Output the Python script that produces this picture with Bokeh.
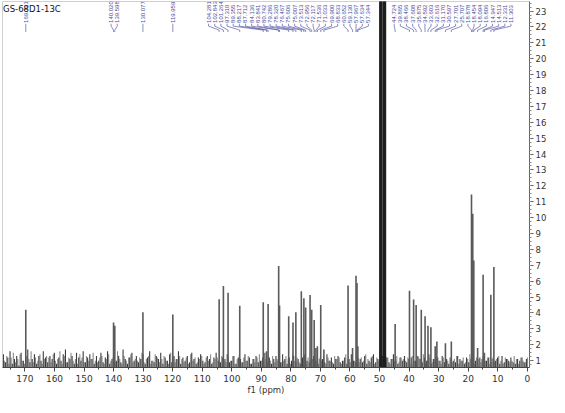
import math
from bokeh.plotting import figure
from bokeh.models import Range1d, FixedTicker, Label
from bokeh.core.properties import value
from bokeh.embed import file_html
from bokeh.resources import INLINE

TITLE = "GS-68D1-13C"
X_LABEL = "f1 (ppm)"

PEAK_PPM = [169.721, 140.020, 139.598, 130.077, 119.959,
            104.281, 102.843, 101.264, 97.310, 89.355, 88.217, 87.712, 84.136, 83.841, 80.742,
            79.286, 78.320, 76.467, 75.606, 75.007, 73.513, 72.956, 72.117, 71.536, 71.033,
            69.900, 68.833, 60.652, 59.130, 57.967, 57.634, 57.344,
            44.724, 39.865, 38.466, 37.608, 35.875, 34.592, 33.603, 32.616, 31.170, 30.597,
            27.701, 25.707, 18.878, 18.454, 18.094, 16.806, 14.947, 14.513, 12.331, 11.303]
PEAK_HEIGHT = [4.2, 3.4, 3.2, 4.05, 3.9,
               4.86, 5.7, 5.27, 4.45, 4.68, 1.6, 4.56, 6.96, 4.47, 3.8,
               3.4, 4.05, 5.37, 4.92, 4.35, 5.13, 4.2, 3.56, 1.8, 1.9,
               4.5, 1.7, 5.73, 1.8, 6.35, 5.88, 1.9,
               3.3, 5.4, 4.85, 4.5, 4.2, 3.8, 3.2, 3.1, 1.9, 2.2,
               2.1, 2.2, 11.45, 10.25, 7.3, 1.8, 6.4, 1.5, 5.15, 6.9]

SOLVENT_PPM = [49.85, 49.55, 49.25, 48.65, 48.35, 48.05]
SOLVENT_HEIGHT = [60, 60, 60, 60, 60, 60]

NOISE_START = 177.3
NOISE_STEP = 0.75
NOISE_A = [
    14, 9, 12, 16, 8, 11, 13, 7, 15, 10, 12, 17, 9, 11, 14, 8, 13, 10, 16, 12,
    9, 13, 11, 15, 8, 12, 10, 14, 17, 9, 11, 13, 8, 15, 12, 10, 16, 9, 12, 14,
    11, 8, 13, 10, 15, 9, 12, 16, 8, 11, 14, 10, 13, 9, 17, 11, 8, 12, 15, 10,
    13, 9, 11, 14, 8, 12, 16, 10, 9, 13, 11, 15, 8, 12, 10, 14, 9, 13, 11, 16,
    8, 12, 10, 13, 9, 15, 11, 8, 12, 14, 10, 9, 13, 11, 8, 12, 15, 10, 9, 12,
    11, 14, 9, 10, 13, 8, 12, 11, 9, 14, 10, 12, 8, 11, 13, 9, 10, 12, 15, 9,
    12, 8, 11, 13, 10, 9, 14, 11, 8, 12, 10, 13, 9, 11, 8, 12, 14, 10, 9, 11,
    13, 10, 8, 12, 11, 9, 14, 10, 12, 8, 11, 13, 9, 10, 12, 8, 11, 14, 10, 9,
    12, 11, 9, 13, 8, 10, 12, 14, 9, 11, 10, 13, 8, 12, 9, 11, 14, 10, 8, 12,
    10, 13, 9, 11, 12, 8, 10, 13, 11, 9, 12, 10, 14, 8, 11, 9, 12, 10, 13, 9,
    11, 8, 12, 10, 9, 13, 11, 10, 8, 12, 9, 11, 13, 10, 8, 12, 11, 9, 10, 12,
    9, 11, 10, 12, 8, 13, 9, 11, 10, 12, 9, 8, 11, 10, 12, 9, 11]
NOISE_B = [
    10, 13, 8, 12, 15, 9, 11, 14, 10, 8, 13, 11, 16, 9, 12, 10, 14, 8, 11, 13,
    12, 9, 14, 10, 11, 16, 8, 13, 9, 12, 15, 10, 11, 8, 14, 12, 9, 13, 10, 11,
    15, 10, 9, 12, 13, 8, 11, 14, 10, 12, 9, 16, 11, 8, 13, 10, 12, 14, 9, 11,
    10, 12, 15, 9, 11, 13, 8, 10, 14, 12, 9, 11, 13, 10, 8, 15, 12, 9, 11, 13,
    11, 9, 12, 8, 14, 10, 12, 9, 11, 13, 8, 12, 10, 14, 9, 11, 12, 8, 13, 10,
    9, 12, 10, 13, 8, 11, 14, 9, 12, 10, 13, 8, 11, 9, 12, 14, 10, 8, 11, 13,
    10, 13, 9, 11, 12, 9, 10, 13, 11, 8, 14, 10, 12, 9, 11, 13, 8, 12, 10, 11,
    12, 9, 11, 10, 13, 8, 12, 10, 9, 13, 11, 12, 8, 10, 14, 11, 9, 12, 10, 8,
    9, 12, 10, 14, 11, 9, 13, 8, 12, 10, 11, 9, 13, 12, 8, 11, 10, 13, 9, 12,
    11, 10, 12, 8, 13, 10, 9, 12, 11, 14, 8, 10, 12, 9, 11, 13, 10, 8, 12, 11,
    10, 12, 9, 11, 13, 8, 10, 12, 9, 11, 14, 10, 8, 12, 11, 9, 13, 10, 12, 8,
    12, 9, 11, 13, 10, 8, 12, 11, 9, 10, 13, 11, 8, 12, 10, 9, 12]

X_TICKS = list(range(0, 171, 10))
X_MINOR = list(range(0, 176, 5))
Y_TICKS = list(range(1, 24))
Y_MINOR = [i * 0.25 for i in range(2, 95)]

# ---- derived ----
na_x = [NOISE_START - i * NOISE_STEP for i in range(len(NOISE_A))]
nb_x = [NOISE_START - NOISE_STEP / 2 - i * NOISE_STEP for i in range(len(NOISE_B))]
na_h = [t / 10 for t in NOISE_A]
nb_h = [t / 10 for t in NOISE_B]

GAP = 2.08  # label spacing in ppm
AVOID_LO = min(SOLVENT_PPM) - 3.0
AVOID_HI = max(SOLVENT_PPM) + 3.0


def spread(pp, gap):
    clusters = [[p] for p in sorted(pp, reverse=True)]

    def center(c):
        return (max(c) + min(c)) / 2

    changed = True
    while changed:
        changed = False
        for i in range(len(clusters) - 1):
            a, b = clusters[i], clusters[i + 1]
            a_low = center(a) - (len(a) - 1) / 2 * gap
            b_high = center(b) + (len(b) - 1) / 2 * gap
            if a_low - b_high < gap:
                clusters[i] = a + b
                del clusters[i + 1]
                changed = True
                break
    pos = []
    for c in clusters:
        top = center(c) + (len(c) - 1) / 2 * gap
        ps = [top - k * gap for k in range(len(c))]
        # keep labels clear of the solvent signal
        if any(AVOID_LO < v < AVOID_HI for v in ps):
            if center(c) < (AVOID_LO + AVOID_HI) / 2:
                shift = AVOID_LO - max(ps)
            else:
                shift = AVOID_HI - min(ps)
            ps = [v + shift for v in ps]
        pos += ps
    return sorted(pp, reverse=True), pos


sorted_ppm, label_x = spread(PEAK_PPM, GAP)
label_txt = [f"{v:.3f}" for v in sorted_ppm]
lead_xs = [[lx, lx, px, px] for lx, px in zip(label_x, sorted_ppm)]
lead_ys = [[22.2, 22.05, 21.8, 21.68] for _ in sorted_ppm]

p = figure(width=549, height=397,
           x_range=Range1d(177.6, -0.75), y_range=Range1d(0.57, 23.6),
           y_axis_location="right", output_backend="svg", toolbar_location=None,
           min_border_left=2, min_border_top=1, min_border_right=0, min_border_bottom=0,
           background_fill_color="white", border_fill_color="white")
p.grid.visible = False
p.outline_line_color = "#d0d0d0"

# noise
p.segment(x0=nb_x, y0=[0] * len(nb_x), x1=nb_x, y1=nb_h,
          line_color="#8a8a8a", line_width=1.1)
p.segment(x0=na_x, y0=[0] * len(na_x), x1=na_x, y1=na_h,
          line_color="#3c3c3c", line_width=1.1)
# peaks
p.segment(x0=PEAK_PPM, y0=[0] * len(PEAK_PPM), x1=PEAK_PPM, y1=PEAK_HEIGHT,
          line_color="#5a5a5a", line_width=1.6)
# solvent
p.segment(x0=SOLVENT_PPM, y0=[0] * len(SOLVENT_PPM), x1=SOLVENT_PPM, y1=SOLVENT_HEIGHT,
          line_color="#1e1e1e", line_width=1.8)

# peak labels
p.multi_line(xs=lead_xs, ys=lead_ys, line_color="#5a5aa8", line_width=0.7)
p.text(x=label_x, y=[22.25] * len(label_x), text=label_txt, angle=math.pi / 2,
       text_align="left", text_baseline="middle", text_font_size="6px",
       text_color="#4b4b9a", text_font=value("Liberation Sans"))

p.add_layout(Label(x=177.4, y=23.45, text=TITLE, text_baseline="top",
                   text_font_size="8.5px", text_color="#111111",
                   text_font="DejaVu Sans"))

xa = p.xaxis[0]
xa.ticker = FixedTicker(ticks=X_TICKS, minor_ticks=X_MINOR)
xa.axis_label = X_LABEL
xa.axis_label_text_font_style = "normal"
xa.axis_label_text_font_size = "8.5px"
xa.axis_label_text_font = "DejaVu Sans"
xa.axis_label_text_color = "#333333"
xa.axis_label_standoff = 0
xa.major_label_text_font_size = "9px"
xa.major_label_text_font = "DejaVu Sans"
xa.major_label_text_color = "#333333"
xa.major_label_standoff = 3
xa.axis_line_color = "#444444"
xa.major_tick_line_color = "#444444"
xa.minor_tick_line_color = "#444444"
xa.major_tick_out = 4
xa.major_tick_in = 0
xa.minor_tick_out = 2
xa.minor_tick_in = 0

ya = p.yaxis[0]
ya.ticker = FixedTicker(ticks=Y_TICKS, minor_ticks=Y_MINOR)
ya.major_label_text_font_size = "8.5px"
ya.major_label_text_font = "DejaVu Sans"
ya.major_label_text_color = "#333333"
ya.major_label_standoff = 2
ya.axis_line_color = "#666666"
ya.major_tick_line_color = "#666666"
ya.minor_tick_line_color = "#888888"
ya.major_tick_out = 4
ya.major_tick_in = 0
ya.minor_tick_out = 2
ya.minor_tick_in = 0

open("out.html", "w").write(file_html(p, INLINE))
